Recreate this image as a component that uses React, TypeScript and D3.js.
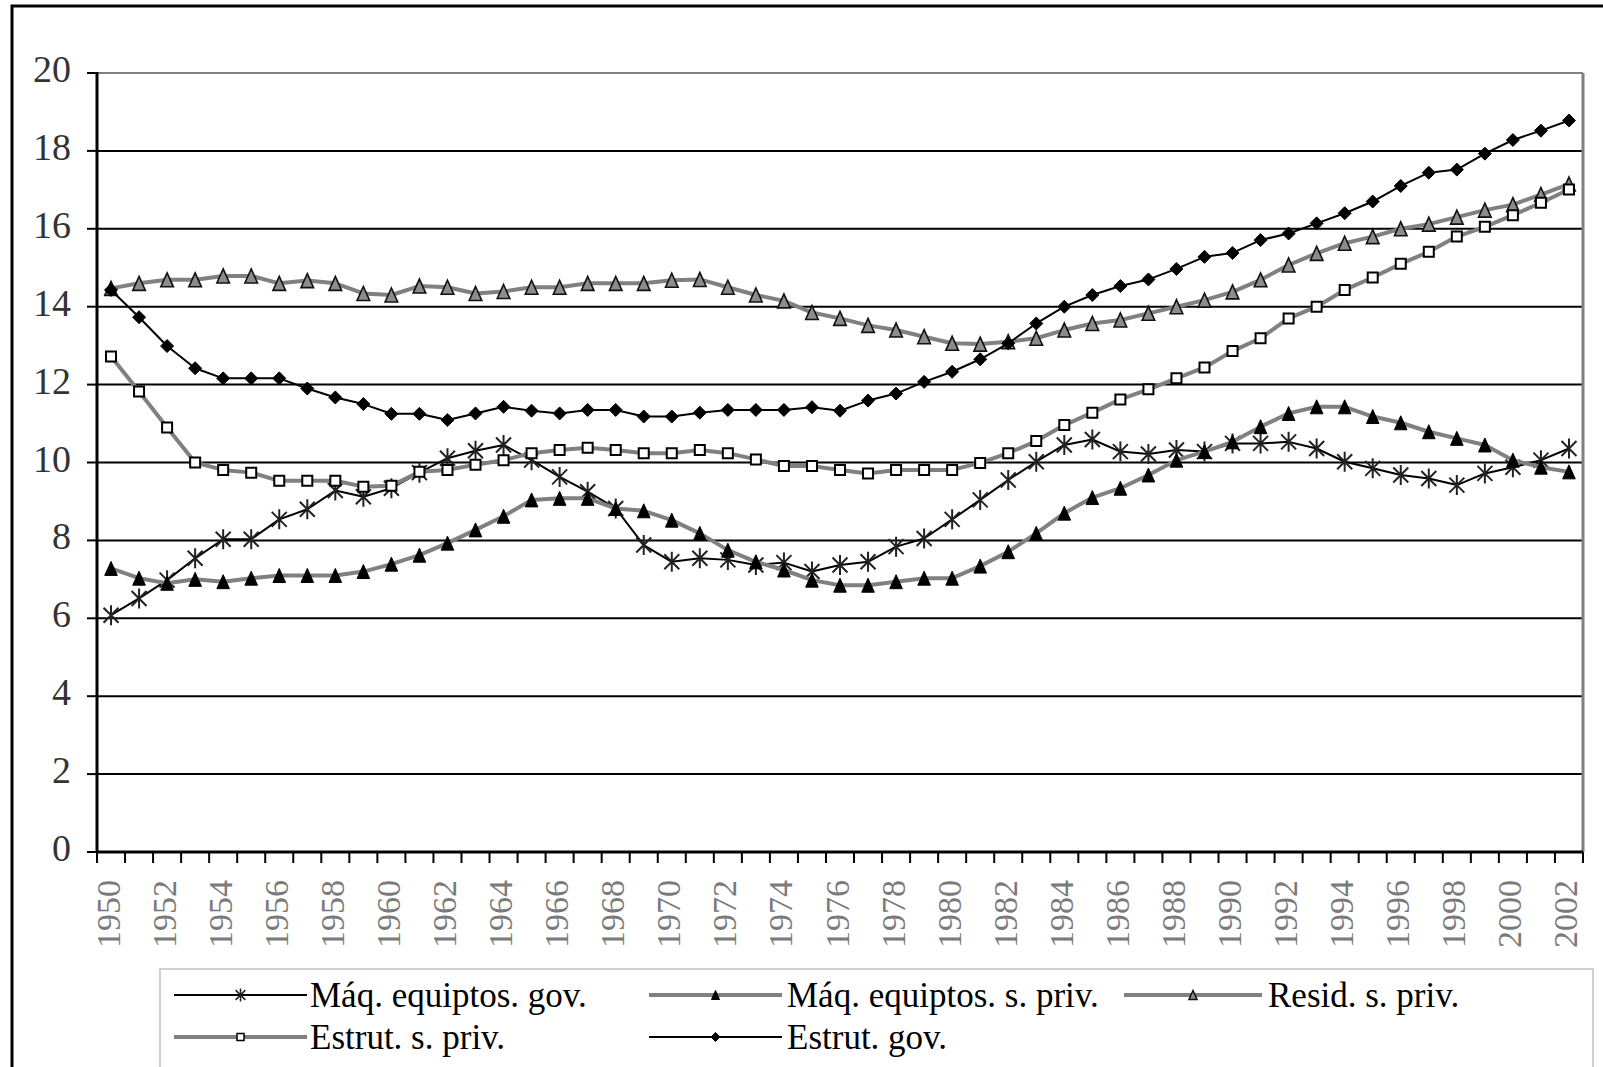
import React from "react";
import * as d3 from "d3";

const years = [
  1950, 1951, 1952, 1953, 1954, 1955, 1956, 1957, 1958, 1959,
  1960, 1961, 1962, 1963, 1964, 1965, 1966, 1967, 1968, 1969,
  1970, 1971, 1972, 1973, 1974, 1975, 1976, 1977, 1978, 1979,
  1980, 1981, 1982, 1983, 1984, 1985, 1986, 1987, 1988, 1989,
  1990, 1991, 1992, 1993, 1994, 1995, 1996, 1997, 1998, 1999,
  2000, 2001, 2002,
];

const maqGov = [
  6.08, 6.51, 6.98, 7.54, 8.03, 8.03, 8.54, 8.8, 9.28, 9.12,
  9.34, 9.74, 10.11, 10.3, 10.45, 10.06, 9.63, 9.25, 8.82, 7.88,
  7.45, 7.54, 7.5, 7.37, 7.43, 7.2, 7.37, 7.45, 7.84, 8.05,
  8.54, 9.04, 9.55, 10.02, 10.45, 10.59, 10.28, 10.22, 10.32, 10.28,
  10.49, 10.49, 10.53, 10.36, 10.02, 9.85, 9.68, 9.59, 9.42, 9.72,
  9.88, 10.06, 10.36,
];

const maqPriv = [
  7.28, 7.03, 6.9, 7.0, 6.94, 7.03, 7.1, 7.1, 7.1, 7.2,
  7.39, 7.62, 7.93, 8.27, 8.62, 9.04, 9.08, 9.08, 8.82, 8.76,
  8.52, 8.18, 7.75, 7.45, 7.24, 6.98, 6.85, 6.85, 6.94, 7.03,
  7.03, 7.34, 7.71, 8.18, 8.7, 9.1, 9.34, 9.68, 10.06, 10.28,
  10.53, 10.92, 11.26, 11.43, 11.43, 11.18, 11.02, 10.79, 10.62, 10.45,
  10.06, 9.88, 9.76,
];

const residPriv = [
  14.47, 14.6, 14.69, 14.69, 14.79, 14.79, 14.6, 14.67, 14.6, 14.34,
  14.3, 14.53, 14.5, 14.34, 14.39, 14.5, 14.5, 14.6, 14.6, 14.6,
  14.68, 14.7, 14.5, 14.3, 14.15, 13.85, 13.7, 13.52, 13.4, 13.23,
  13.06, 13.04, 13.1, 13.19, 13.4, 13.57, 13.66, 13.83, 14.0, 14.17,
  14.38, 14.69, 15.07, 15.37, 15.63, 15.8, 16.0, 16.12, 16.3, 16.48,
  16.62, 16.88, 17.15,
];

const estrutPriv = [
  12.72, 11.82, 10.9, 10.0, 9.81, 9.74, 9.53, 9.53, 9.53, 9.38,
  9.4, 9.76, 9.81, 9.94, 10.06, 10.24, 10.32, 10.38, 10.32, 10.24,
  10.24, 10.32, 10.24, 10.08, 9.91, 9.91, 9.81, 9.72, 9.81, 9.81,
  9.81, 9.99, 10.24, 10.55, 10.96, 11.28, 11.62, 11.88, 12.16, 12.44,
  12.86, 13.19, 13.7, 14.0, 14.43, 14.75, 15.1, 15.41, 15.8, 16.05,
  16.35, 16.67, 17.01,
];

const estrutGov = [
  14.43, 13.73, 12.99, 12.42, 12.16, 12.16, 12.16, 11.9, 11.67, 11.5,
  11.25, 11.25, 11.09, 11.26, 11.43, 11.33, 11.26, 11.35, 11.35, 11.18,
  11.18, 11.28, 11.35, 11.35, 11.35, 11.42, 11.33, 11.59, 11.77, 12.07,
  12.33, 12.65, 13.06, 13.57, 14.0, 14.3, 14.53, 14.7, 14.97, 15.28,
  15.38, 15.71, 15.88, 16.14, 16.4, 16.7, 17.1, 17.44, 17.52, 17.93,
  18.28, 18.52, 18.78,
];

const yTicks = [0, 2, 4, 6, 8, 10, 12, 14, 16, 18, 20];
const xLabelYears = years.filter((y) => (y - 1950) % 2 === 0);

const seriesNames = [
  "Máq. equiptos. gov.",
  "Máq. equiptos. s. priv.",
  "Resid. s. priv.",
  "Estrut. s. priv.",
  "Estrut. gov.",
];

type MarkerKind = "star" | "triBlack" | "triGray" | "square" | "diamond";

const W = 1603;
const H = 1067;
const PL = 97;
const PR = 1583;
const PT = 73;
const PB = 852;

const x = d3.scaleBand<number>().domain(years).range([PL, PR]).padding(0);
const y = d3.scaleLinear().domain([0, 20]).range([PB, PT]);
const cx = (yr: number) => (x(yr) as number) + x.bandwidth() / 2;

function markerPath(kind: MarkerKind, s: number): string {
  const p = d3.path();
  if (kind === "star") {
    const r = s / 2;
    const d = r * 0.75;
    p.moveTo(0, -r);
    p.lineTo(0, r);
    p.moveTo(-d, -d);
    p.lineTo(d, d);
    p.moveTo(-d, d);
    p.lineTo(d, -d);
  } else if (kind === "triBlack" || kind === "triGray") {
    const h = s / 2;
    p.moveTo(0, -h);
    p.lineTo(h * 0.9, h);
    p.lineTo(-h * 0.9, h);
    p.closePath();
  } else if (kind === "square") {
    const h = s / 2;
    p.rect(-h, -h, s, s);
  } else {
    const h = s / 2;
    p.moveTo(0, -h);
    p.lineTo(h, 0);
    p.lineTo(0, h);
    p.lineTo(-h, 0);
    p.closePath();
  }
  return p.toString();
}

const markerStyle: Record<MarkerKind, { fill: string; stroke: string; sw: number }> = {
  star: { fill: "none", stroke: "#222", sw: 2 },
  triBlack: { fill: "#000", stroke: "#000", sw: 1 },
  triGray: { fill: "#8c8c8c", stroke: "#111", sw: 1.6 },
  square: { fill: "#fff", stroke: "#000", sw: 2 },
  diamond: { fill: "#000", stroke: "#000", sw: 1 },
};

const series: {
  name: string;
  values: number[];
  color: string;
  width: number;
  marker: MarkerKind;
  size: number;
  legSize: number;
}[] = [
  { name: seriesNames[0], values: maqGov, color: "#000", width: 2, marker: "star", size: 20, legSize: 13 },
  { name: seriesNames[1], values: maqPriv, color: "#808080", width: 4, marker: "triBlack", size: 14, legSize: 9 },
  { name: seriesNames[2], values: residPriv, color: "#808080", width: 4, marker: "triGray", size: 14, legSize: 9 },
  { name: seriesNames[3], values: estrutPriv, color: "#808080", width: 4, marker: "square", size: 10, legSize: 7 },
  { name: seriesNames[4], values: estrutGov, color: "#000", width: 2, marker: "diamond", size: 13, legSize: 9 },
];

const legendPos = [
  { lx: 174, rx: 307, ty: 995, tx: 310, by: 1007 },
  { lx: 649, rx: 782, ty: 995, tx: 787, by: 1007 },
  { lx: 1124, rx: 1262, ty: 995, tx: 1268, by: 1007 },
  { lx: 174, rx: 307, ty: 1037, tx: 310, by: 1049 },
  { lx: 649, rx: 782, ty: 1037, tx: 787, by: 1049 },
];

const serif = "'Liberation Serif', 'Times New Roman', serif";

export default function App() {
  const line = d3
    .line<number>()
    .x((_, i) => cx(years[i]))
    .y((v) => y(v));

  const boundaries = d3.range(years.length + 1).map((i) => PL + i * x.bandwidth());

  return (
    <svg
      width={W}
      height={H}
      viewBox={`0 0 ${W} ${H}`}
      style={{ position: "absolute", left: 0, top: 0, display: "block", background: "#fff" }}
    >
      <rect x={0} y={0} width={W} height={H} fill="#fff" />
      {/* outer frame */}
      <rect x={12} y={6} width={W + 50} height={H + 50} fill="none" stroke="#000" strokeWidth={3} />

      {/* gridlines */}
      {yTicks.filter((t) => t > 0 && t < 20).map((t) => (
        <line key={`g${t}`} x1={PL} x2={PR} y1={y(t)} y2={y(t)} stroke="#000" strokeWidth={2} />
      ))}
      {/* plot border top/right */}
      <line x1={PL} x2={PR} y1={y(20)} y2={y(20)} stroke="#808080" strokeWidth={2} />
      <line x1={PR} x2={PR} y1={PT} y2={PB} stroke="#808080" strokeWidth={3} />

      {/* y axis */}
      <line x1={PL} x2={PL} y1={PT - 1} y2={PB + 1} stroke="#000" strokeWidth={3} />
      {yTicks.map((t) => (
        <g key={`yt${t}`}>
          <line x1={PL - 10} x2={PL} y1={y(t)} y2={y(t)} stroke="#000" strokeWidth={2} />
          <text
            x={71}
            y={y(t) + 9}
            textAnchor="end"
            fontFamily={serif}
            fontSize={38}
            fill="#333"
          >
            {t}
          </text>
        </g>
      ))}

      {/* x axis */}
      <line x1={PL} x2={PR} y1={PB} y2={PB} stroke="#000" strokeWidth={3} />
      {boundaries.map((b, i) => (
        <line key={`xt${i}`} x1={b} x2={b} y1={PB} y2={PB + 11} stroke="#000" strokeWidth={2} />
      ))}
      {xLabelYears.map((yr) => (
        <text
          key={`xl${yr}`}
          transform={`translate(${cx(yr) - 3},${880}) rotate(-90)`}
          textAnchor="end"
          dominantBaseline="central"
          fontFamily={serif}
          fontSize={34}
          fill="#7a7a7a"
        >
          {yr}
        </text>
      ))}

      {/* series */}
      {series.map((s) => (
        <g key={s.name}>
          <path d={line(s.values) || ""} fill="none" stroke={s.color} strokeWidth={s.width} strokeLinejoin="round" />
          {s.values.map((v, i) => (
            <path
              key={i}
              transform={`translate(${cx(years[i])},${y(v)})`}
              d={markerPath(s.marker, s.size)}
              fill={markerStyle[s.marker].fill}
              stroke={markerStyle[s.marker].stroke}
              strokeWidth={markerStyle[s.marker].sw}
            />
          ))}
        </g>
      ))}

      {/* legend */}
      <rect x={160} y={969} width={1433} height={200} fill="#fff" stroke="#d0d0d0" strokeWidth={2} />
      {series.map((s, i) => {
        const p = legendPos[i];
        const mx = (p.lx + p.rx) / 2;
        return (
          <g key={`lg${i}`}>
            <line x1={p.lx} x2={p.rx} y1={p.ty} y2={p.ty} stroke={s.color} strokeWidth={s.width} />
            <path
              transform={`translate(${mx},${p.ty})`}
              d={markerPath(s.marker, s.legSize)}
              fill={markerStyle[s.marker].fill}
              stroke={markerStyle[s.marker].stroke}
              strokeWidth={Math.min(markerStyle[s.marker].sw, 1.5)}
            />
            <text x={p.tx} y={p.by} fontFamily={serif} fontSize={35} fill="#000">
              {s.name}
            </text>
          </g>
        );
      })}
    </svg>
  );
}
